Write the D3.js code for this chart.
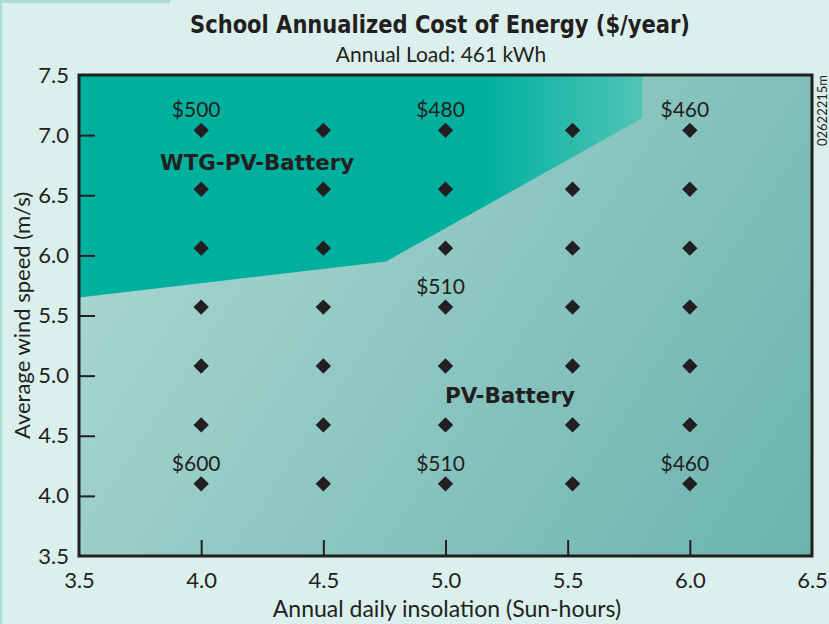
<!DOCTYPE html>
<html>
<head>
<meta charset="utf-8">
<script src="https://cdn.jsdelivr.net/npm/d3@7/dist/d3.min.js"></script>
<style>
  html, body { margin: 0; padding: 0; background: #dbefec; }
  svg { display: block; }
</style>
</head>
<body>
<svg id="chart" width="829" height="624"></svg>
<script>
// ---- Data ----
const xTickValues = [3.5, 4.0, 4.5, 5.0, 5.5, 6.0, 6.5];
const yTickValues = [3.5, 4.0, 4.5, 5.0, 5.5, 6.0, 6.5, 7.0, 7.5];
const insolation = [4.0, 4.5, 5.0, 5.52, 6.0];            // Sun-hours
const windSpeed = [4.1, 4.59, 5.08, 5.57, 6.06, 6.55, 7.04]; // m/s
const costLabels = [
  { x: 4.0, y: 7.04, text: "$500" },
  { x: 5.0, y: 7.04, text: "$480" },
  { x: 6.0, y: 7.04, text: "$460" },
  { x: 5.0, y: 5.57, text: "$510" },
  { x: 4.0, y: 4.1,  text: "$600" },
  { x: 5.0, y: 4.1,  text: "$510" },
  { x: 6.0, y: 4.1,  text: "$460" }
];
// Boundary of WTG-PV-Battery optimal region
const wtgRegion = [[3.5, 5.65], [4.757, 5.95], [5.805, 7.14], [5.805, 7.5], [3.5, 7.5]];
const regionLabels = [
  { x: 4.229, y: 6.71, text: "WTG-PV-Battery", len: 194 },
  { x: 5.264, y: 4.775, text: "PV-Battery", len: 130 }
];

// ---- Layout ----
const W = 829, H = 624;
const plot = { left: 79, right: 812, top: 75, bottom: 556 };
const svg = d3.select("#chart");

const x = d3.scaleLinear().domain([3.5, 6.5]).range([plot.left, plot.right]);
const y = d3.scaleLinear().domain([3.5, 7.5]).range([plot.bottom, plot.top]);

const defs = svg.append("defs");
const bgGrad = defs.append("linearGradient").attr("id", "bgGrad")
  .attr("gradientUnits", "userSpaceOnUse")
  .attr("x1", plot.left).attr("y1", plot.top).attr("x2", plot.right).attr("y2", plot.bottom);
bgGrad.append("stop").attr("offset", 0).attr("stop-color", "#b0dad5");
bgGrad.append("stop").attr("offset", 1).attr("stop-color", "#6bb3ae");

const wtgGrad = defs.append("linearGradient").attr("id", "wtgGrad")
  .attr("gradientUnits", "userSpaceOnUse")
  .attr("x1", x(5.15)).attr("y1", 0).attr("x2", x(5.805)).attr("y2", 0);
wtgGrad.append("stop").attr("offset", 0).attr("stop-color", "#00b09e");
wtgGrad.append("stop").attr("offset", 1).attr("stop-color", "#50c4b6");

// decorative edge strips
svg.append("rect").attr("x", 0).attr("y", 0).attr("width", 2).attr("height", H).attr("fill", "#a9dcd5");
svg.append("rect").attr("x", 0).attr("y", 0).attr("width", 170).attr("height", 3).attr("fill", "#a9dcd5");

// plot background
svg.append("rect")
  .attr("x", plot.left).attr("y", plot.top)
  .attr("width", plot.right - plot.left).attr("height", plot.bottom - plot.top)
  .attr("fill", "url(#bgGrad)");

// WTG region
svg.append("path")
  .attr("d", d3.line().x(d => x(d[0])).y(d => y(d[1]))(wtgRegion) + "Z")
  .attr("fill", "url(#wtgGrad)");

// Axes
const regFont = "Lato, 'Open Sans', sans-serif";
const boldFont = "'DejaVu Sans Condensed', 'DejaVu Sans', sans-serif";

const yAxis = svg.append("g")
  .attr("transform", `translate(${plot.left},0)`)
  .call(d3.axisLeft(y).tickValues(yTickValues).tickFormat(d3.format(".1f"))
    .tickSizeInner(-16).tickSizeOuter(0).tickPadding(10));
yAxis.select(".domain").remove();
yAxis.selectAll(".tick line").attr("stroke", "#231f20").attr("stroke-width", 2)
  .filter(d => d === 3.5 || d === 7.5).remove();
yAxis.selectAll(".tick text").attr("font-family", regFont).attr("font-size", 22)
  .attr("fill", "#231f20");

const xAxis = svg.append("g")
  .attr("transform", `translate(0,${plot.bottom})`)
  .call(d3.axisBottom(x).tickValues(xTickValues).tickFormat(d3.format(".1f"))
    .tickSizeInner(-16).tickSizeOuter(0).tickPadding(16));
xAxis.select(".domain").remove();
xAxis.selectAll(".tick line").attr("stroke", "#231f20").attr("stroke-width", 2)
  .filter(d => d === 3.5 || d === 6.5).remove();
xAxis.selectAll(".tick text").attr("font-family", regFont).attr("font-size", 22)
  .attr("fill", "#231f20");

// Frame
svg.append("rect")
  .attr("x", plot.left).attr("y", plot.top)
  .attr("width", plot.right - plot.left).attr("height", plot.bottom - plot.top)
  .attr("fill", "none").attr("stroke", "#231f20").attr("stroke-width", 3);

// Points
const grid = [];
windSpeed.forEach(ws => insolation.forEach(ins => grid.push({ x: ins, y: ws })));
svg.append("g").selectAll("path").data(grid).join("path")
  .attr("transform", d => `translate(${x(d.x)},${y(d.y)}) rotate(45)`)
  .attr("d", d3.symbol().type(d3.symbolSquare).size(118))
  .attr("fill", "#231f20");

// Cost labels
svg.append("g").selectAll("text").data(costLabels).join("text")
  .attr("x", d => x(d.x) - 5).attr("y", d => y(d.y) - 13)
  .attr("text-anchor", "middle")
  .attr("font-family", regFont).attr("font-size", 21).attr("fill", "#231f20")
  .text(d => d.text);

// Region labels
svg.append("g").selectAll("text").data(regionLabels).join("text")
  .attr("x", d => x(d.x)).attr("y", d => y(d.y))
  .attr("text-anchor", "middle")
  .attr("font-family", boldFont).attr("font-weight", "bold").attr("font-size", 22)
  .attr("textLength", d => d.len).attr("lengthAdjust", "spacingAndGlyphs")
  .attr("fill", "#231f20")
  .text(d => d.text);

// Titles
svg.append("text").attr("x", 440).attr("y", 33).attr("text-anchor", "middle")
  .attr("font-family", boldFont).attr("font-weight", "bold").attr("font-size", 24)
  .attr("textLength", 500).attr("lengthAdjust", "spacingAndGlyphs")
  .attr("fill", "#231f20")
  .text("School Annualized Cost of Energy ($/year)");
svg.append("text").attr("x", 441).attr("y", 62).attr("text-anchor", "middle")
  .attr("font-family", regFont).attr("font-size", 21).attr("fill", "#231f20")
  .text("Annual Load: 461 kWh");

// Axis titles
svg.append("text").attr("x", 447).attr("y", 617).attr("text-anchor", "middle")
  .attr("font-family", regFont).attr("font-size", 23).attr("fill", "#231f20")
  .text("Annual daily insolation (Sun-hours)");
svg.append("text")
  .attr("transform", `translate(30,${(plot.top + plot.bottom) / 2 + 0}) rotate(-90)`)
  .attr("text-anchor", "middle")
  .attr("font-family", regFont).attr("font-size", 22).attr("fill", "#231f20")
  .text("Average wind speed (m/s)");

// Figure code
svg.append("text")
  .attr("transform", `translate(827,${plot.top}) rotate(-90)`)
  .attr("text-anchor", "end")
  .attr("font-family", regFont).attr("font-size", 13).attr("fill", "#231f20")
  .text("02622215m");
</script>
</body>
</html>
